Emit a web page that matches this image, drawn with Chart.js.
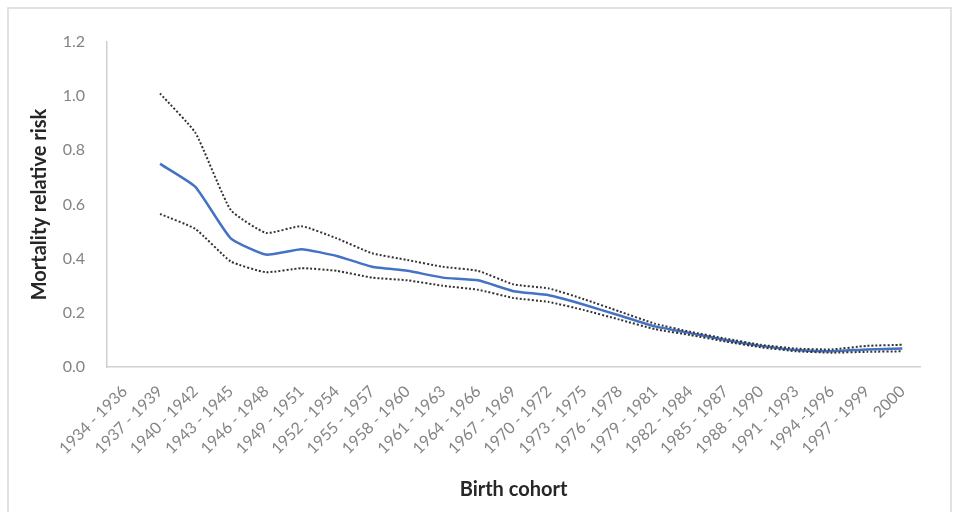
<!DOCTYPE html>
<html>
<head>
<meta charset="utf-8">
<script src="https://cdn.jsdelivr.net/npm/chart.js@4/dist/chart.umd.min.js"></script>
<style>
  html, body { margin: 0; padding: 0; background: #fff; }
  #wrap { width: 955px; height: 512px; }
</style>
</head>
<body>
<div id="wrap"><canvas id="chart" width="955" height="512"></canvas></div>
<script>
const cohorts = ['1934 - 1936', '1937 - 1939', '1940 - 1942', '1943 - 1945', '1946 - 1948', '1949 - 1951',
  '1952 - 1954', '1955 - 1957', '1958 - 1960', '1961 - 1963', '1964 - 1966', '1967 - 1969', '1970 - 1972',
  '1973 - 1975', '1976 - 1978', '1979 - 1981', '1982 - 1984', '1985 - 1987', '1988 - 1990', '1991 - 1993',
  '1994 -1996', '1997 - 1999', '2000'];
const relRisk = [null, 0.75, 0.665, 0.475, 0.415, 0.435, 0.41, 0.37, 0.355, 0.33, 0.32, 0.28, 0.265,
  0.23, 0.19, 0.15, 0.125, 0.10, 0.078, 0.063, 0.058, 0.065, 0.068];
const upperCI = [null, 1.01, 0.865, 0.58, 0.495, 0.52, 0.475, 0.42, 0.395, 0.37, 0.355, 0.305, 0.29,
  0.25, 0.205, 0.16, 0.13, 0.105, 0.082, 0.068, 0.065, 0.078, 0.082];
const lowerCI = [null, 0.565, 0.51, 0.39, 0.35, 0.365, 0.355, 0.33, 0.32, 0.30, 0.285, 0.255, 0.24,
  0.21, 0.175, 0.14, 0.118, 0.094, 0.073, 0.058, 0.053, 0.056, 0.058];
const yTicks = [0, 0.2, 0.4, 0.6, 0.8, 1.0, 1.2];

const FONT = 'Lato, "Open Sans", sans-serif';

// light frame around the whole figure
const frame = {
  id: 'frame',
  beforeDraw(chart) {
    const c = chart.ctx;
    c.save();
    c.fillStyle = '#fff';
    c.fillRect(0, 0, chart.width, chart.height);
    c.strokeStyle = '#d9d9d9';
    c.lineWidth = 1.5;
    c.strokeRect(8, 8, 943, 520);
    c.restore();
  }
};

const dotted = (data) => ({
  data, borderColor: '#333', borderWidth: 2, borderDash: [2, 2],
  pointRadius: 0, tension: 0.15, fill: false
});

new Chart(document.getElementById('chart').getContext('2d'), {
  type: 'line',
  data: {
    labels: cohorts,
    datasets: [
      dotted(upperCI),
      dotted(lowerCI),
      { data: relRisk, borderColor: '#4472c4', borderWidth: 2.5, pointRadius: 0, tension: 0.15, fill: false }
    ]
  },
  options: {
    animation: false,
    responsive: false,
    layout: { padding: { left: 24, top: 42, right: 35, bottom: 6 } },
    plugins: { legend: { display: false }, tooltip: { enabled: false } },
    scales: {
      x: {
        offset: true,
        grid: { display: false },
        border: { display: true, color: '#d0d0d0', width: 1.5 },
        ticks: {
          autoSkip: false, minRotation: 45, maxRotation: 45, padding: 7,
          color: '#848484', font: { family: FONT, size: 16 }
        },
        title: { display: true, text: 'Birth cohort', color: '#262626', font: { family: FONT, size: 20, weight: 'bold' } },
        afterFit(s) { s.height = 139; }
      },
      y: {
        min: 0, max: 1.2,
        afterBuildTicks(s) { s.ticks = yTicks.map(v => ({ value: v })); },
        grid: { display: false },
        border: { display: true, color: '#d0d0d0', width: 1.5 },
        ticks: {
          padding: 14, color: '#848484', font: { family: FONT, size: 16 },
          callback: v => v.toFixed(1)
        },
        title: { display: true, text: 'Mortality relative risk', color: '#262626', font: { family: FONT, size: 20, weight: 'bold' } },
        afterFit(s) { s.width = 83; }
      }
    }
  },
  plugins: [frame]
});
</script>
</body>
</html>
